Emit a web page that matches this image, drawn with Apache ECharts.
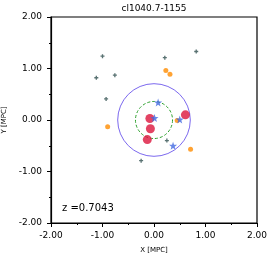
<!DOCTYPE html>
<html><head><meta charset="utf-8">
<script src="https://cdn.jsdelivr.net/npm/echarts@6/dist/echarts.min.js"></script>
<style>html,body{margin:0;padding:0;background:#fff}#c{width:274px;height:258px}</style>
</head><body><div id="c"></div>
<script>
const title = 'cl1040.7-1155';
const redshiftLabel = 'z =0.7043';
const plusPts = [[-1.0,1.24],[0.21,1.21],[0.82,1.33],[-1.12,0.82],[-0.76,0.87],[-0.93,0.41],[0.25,-0.40],[-0.25,-0.79]];
const orangePts = [[0.23,0.96],[0.31,0.89],[-0.90,-0.13],[0.45,-0.01],[0.71,-0.57]];
const redPts = [[-0.08,0.03],[-0.07,-0.17],[-0.13,-0.38],[0.61,0.10]];
const starPts = [[0.08,0.34],[0.01,0.04],[0.50,0.01],[0.37,-0.50]];
const outerCircle = [[0,0,0.705]];
const innerCircle = [[0,0,0.36]];

const chart = echarts.init(document.getElementById('c'), null, {renderer:'canvas'});
const FONT = 'DejaVu Sans';
function circleSeries(data, color, dash){
  return {type:'custom', data:data, clip:false, z:1,
    renderItem:function(params, api){
      const c = api.coord([api.value(0), api.value(1)]);
      const r = api.size([api.value(2), 0])[0];
      return {type:'circle', shape:{cx:c[0], cy:c[1], r:r},
        style:{fill:null, stroke:color, lineWidth:1, lineDash: dash ? [3,2] : null}};
    }};
}
const axisCommon = {
  min:-2, max:2, interval:1,
  axisLine:{show:true, onZero:false, lineStyle:{color:'#000', width:1.2}},
  axisTick:{show:true, inside:false, length:4, lineStyle:{color:'#000'}},
  minorTick:{show:true, splitNumber:2, length:2, lineStyle:{color:'#000'}},
  splitLine:{show:false},
  axisLabel:{color:'#000', fontFamily:FONT, fontSize:9, formatter:v=>v.toFixed(2)},
  nameTextStyle:{color:'#000', fontFamily:FONT, fontSize:7}
};
const star = 'path://M0,-10 L2.35,-3.24 L9.51,-3.09 L3.8,1.24 L5.88,8.09 L0,4 L-5.88,8.09 L-3.8,1.24 L-9.51,-3.09 L-2.35,-3.24 Z';
const plus = 'path://M-1,-3 L1,-3 L1,-1 L3,-1 L3,1 L1,1 L1,3 L-1,3 L-1,1 L-3,1 L-3,-1 L-1,-1 Z';
chart.setOption({
  animation:false,
  grid:{left:51, top:17, width:206, height:206, containLabel:false, outerBoundsMode:'none', show:true, borderColor:'#000', borderWidth:1.2, backgroundColor:'transparent'},
  xAxis:Object.assign({}, axisCommon, {type:'value', position:'bottom', name:'X [MPC]', nameLocation:'middle', nameGap:24,
    axisLabel:Object.assign({}, axisCommon.axisLabel, {margin:8})}),
  yAxis:Object.assign({}, axisCommon, {type:'value', position:'left', name:'Y [MPC]', nameLocation:'middle', nameGap:43, nameRotate:90,
    axisLabel:Object.assign({}, axisCommon.axisLabel, {margin:9})}),
  graphic:[
    {type:'text', x:154, y:4, style:{text:title, font:'9px "DejaVu Sans"', fill:'#000', align:'center', verticalAlign:'top'}},
    {type:'text', left:62, top:203, style:{text:redshiftLabel, font:'10px "DejaVu Sans"', fill:'#000'}}
  ],
  series:[
    circleSeries(outerCircle, '#7b68ee', false),
    circleSeries(innerCircle, '#2ca02c', true),
    {type:'scatter', data:plusPts, symbol:plus, symbolSize:4, itemStyle:{color:'#2f4f4f'}, z:3},
    {type:'scatter', data:orangePts, symbol:'circle', symbolSize:5, itemStyle:{color:'#ff8c00'}, z:3},
    {type:'scatter', data:redPts, symbol:'circle', symbolSize:9, itemStyle:{color:'#dc143c'}, z:4},
    {type:'scatter', data:starPts, symbol:star, symbolSize:8, itemStyle:{color:'#4169e1'}, z:5}
  ]
});
</script></body></html>
